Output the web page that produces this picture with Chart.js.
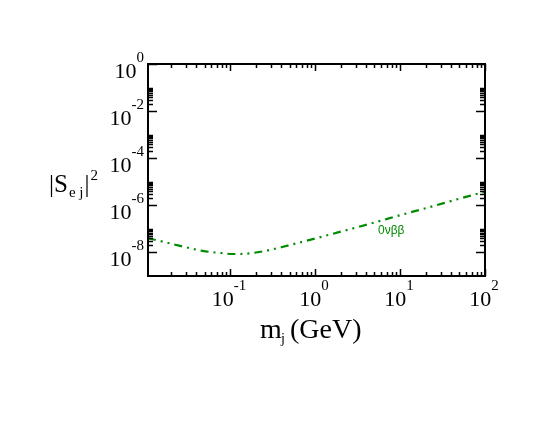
<!DOCTYPE html>
<html><head><meta charset="utf-8">
<script src="https://cdn.jsdelivr.net/npm/chart.js@4/dist/chart.umd.min.js"></script>
<style>html,body{margin:0;padding:0;background:#fff;}#wrap{width:550px;height:425px;}</style>
</head><body><div id="wrap"><canvas id="c" width="550" height="425"></canvas></div>
<script>
// ---- data ----
const massGeV   = [0.0108, 0.014, 0.0251, 0.0472, 0.0809, 0.106, 0.130, 0.239, 0.410, 0.671, 1.21, 1.81, 4.46, 10.0, 22.5, 46.5, 83.2, 100];
const mixingSq  = [4.0e-8, 3.24e-8, 1.95e-8, 1.17e-8, 9.3e-9, 8.6e-9, 8.6e-9, 1.10e-8, 1.70e-8, 2.69e-8, 4.68e-8, 6.9e-8, 1.66e-7, 3.8e-7, 8.5e-7, 1.78e-6, 3.16e-6, 3.8e-6];
const seriesName = '0νββ';
const seriesLabelAt = [5.5, 8.7e-8];          // [mass, |S|^2] where the curve label sits
const xRange = [0.0108, 100];
const yRange = [1e-9, 1];
const xTickValues = [0.1, 1, 10, 100];
const xTickExp    = ['-1', '0', '1', '2'];
const yTickValues = [1, 1e-2, 1e-4, 1e-6, 1e-8];
const yTickExp    = ['0', '-2', '-4', '-6', '-8'];
const xMinorDecades = [0.01, 0.1, 1, 10];      // minor ticks at 2..9 x these
const yMinorBases   = [1e-2, 1e-4, 1e-6, 1e-8]; // minor ticks at 2..10 x these

const GREEN = 'rgb(0,139,0)';
const SERIF = '"Liberation Serif", "Times New Roman", serif';

const axesPlugin = {
  id: 'xmgraceAxes',
  afterDraw(chart) {
    const ctx = chart.ctx, a = chart.chartArea;
    const xs = chart.scales.x, ys = chart.scales.y;
    ctx.save();
    // ticks (inward, mirrored)
    ctx.strokeStyle = '#000';
    ctx.lineWidth = 1.5;
    const vt = (px, len) => {
      ctx.beginPath();
      ctx.moveTo(px, a.bottom); ctx.lineTo(px, a.bottom - len);
      ctx.moveTo(px, a.top); ctx.lineTo(px, a.top + len);
      ctx.stroke();
    };
    const ht = (py, len) => {
      ctx.beginPath();
      ctx.moveTo(a.left, py); ctx.lineTo(a.left + len, py);
      ctx.moveTo(a.right, py); ctx.lineTo(a.right - len, py);
      ctx.stroke();
    };
    xTickValues.forEach(v => vt(Math.round(xs.getPixelForValue(v)) + 0.5, 7));
    xMinorDecades.forEach(d => {
      for (let k = 2; k <= 9; k++) {
        const v = k * d;
        if (v > xRange[0] && v < xRange[1]) vt(Math.round(xs.getPixelForValue(v)) + 0.5, 4);
      }
    });
    yTickValues.forEach(v => ht(Math.round(ys.getPixelForValue(v)) + 0.5, 9));
    yMinorBases.forEach(b => {
      for (let k = 2; k <= 10; k++) {
        const v = k * b;
        if (v > yRange[0] && v < yRange[1]) ht(Math.round(ys.getPixelForValue(v)) + 0.5, 5);
      }
    });
    // frame
    ctx.lineWidth = 2;
    ctx.strokeRect(a.left, a.top, a.right - a.left, a.bottom - a.top);

    // tick labels
    ctx.fillStyle = '#000';
    ctx.textBaseline = 'alphabetic';
    ctx.textAlign = 'left';
    const BASE = '22px ' + SERIF, SUP = '15px ' + SERIF;
    const pow = (exp, x, base, align) => {
      ctx.font = BASE; const wb = ctx.measureText('10').width;
      ctx.font = SUP; const we = ctx.measureText(exp).width;
      const tot = wb + we;
      const x0 = align === 'center' ? x - tot / 2 : x - tot;
      ctx.font = BASE; ctx.fillText('10', x0, base);
      ctx.font = SUP; ctx.fillText(exp, x0 + wb, base - 16);
    };
    xTickValues.forEach((v, i) => pow(xTickExp[i], xs.getPixelForValue(v) - 1, a.bottom + 30, 'center'));
    yTickValues.forEach((v, i) => pow(yTickExp[i], a.left - 4, ys.getPixelForValue(v) + 13.5, 'right'));

    // x title: m_j (GeV)
    let x = 260, base = 338;
    ctx.font = '28px ' + SERIF; ctx.fillText('m', x, base);
    ctx.font = '14px ' + SERIF; ctx.fillText('j', 281, base + 5);
    ctx.font = '28px ' + SERIF; ctx.fillText('(GeV)', 290, base);

    // y title: |S_ej|^2
    const T = '25px ' + SERIF, S = '15px ' + SERIF;
    x = 49; base = 192;
    ctx.font = T; ctx.fillText('|S', x, base); x += ctx.measureText('|S').width + 1;
    ctx.font = S; ctx.fillText('e j', x, base + 5); x += ctx.measureText('e j').width + 1;
    ctx.font = T; ctx.fillText('|', x, base); x += ctx.measureText('|').width + 1;
    ctx.font = S; ctx.fillText('2', x, base - 12);

    // curve label
    ctx.fillStyle = GREEN;
    ctx.font = '12px "Liberation Sans", Arial, sans-serif';
    ctx.textBaseline = 'middle';
    ctx.fillText(seriesName, xs.getPixelForValue(seriesLabelAt[0]), ys.getPixelForValue(seriesLabelAt[1]));
    ctx.restore();
  }
};

new Chart(document.getElementById('c'), {
  type: 'line',
  data: {
    datasets: [{
      label: seriesName,
      data: massGeV.map((m, i) => ({ x: m, y: mixingSq[i] })),
      borderColor: GREEN,
      borderWidth: 2.2,
      borderDash: [8, 5, 2, 5, 2, 5],
      pointRadius: 0,
      fill: false,
      cubicInterpolationMode: 'monotone'
    }]
  },
  options: {
    responsive: false,
    animation: false,
    devicePixelRatio: 1,
    layout: { padding: { left: 148, top: 64, right: 65, bottom: 149 } },
    plugins: { legend: { display: false }, tooltip: { enabled: false } },
    scales: {
      x: { type: 'logarithmic', min: xRange[0], max: xRange[1], display: false },
      y: { type: 'logarithmic', min: yRange[0], max: yRange[1], display: false }
    }
  },
  plugins: [axesPlugin]
});
</script>
</body></html>
